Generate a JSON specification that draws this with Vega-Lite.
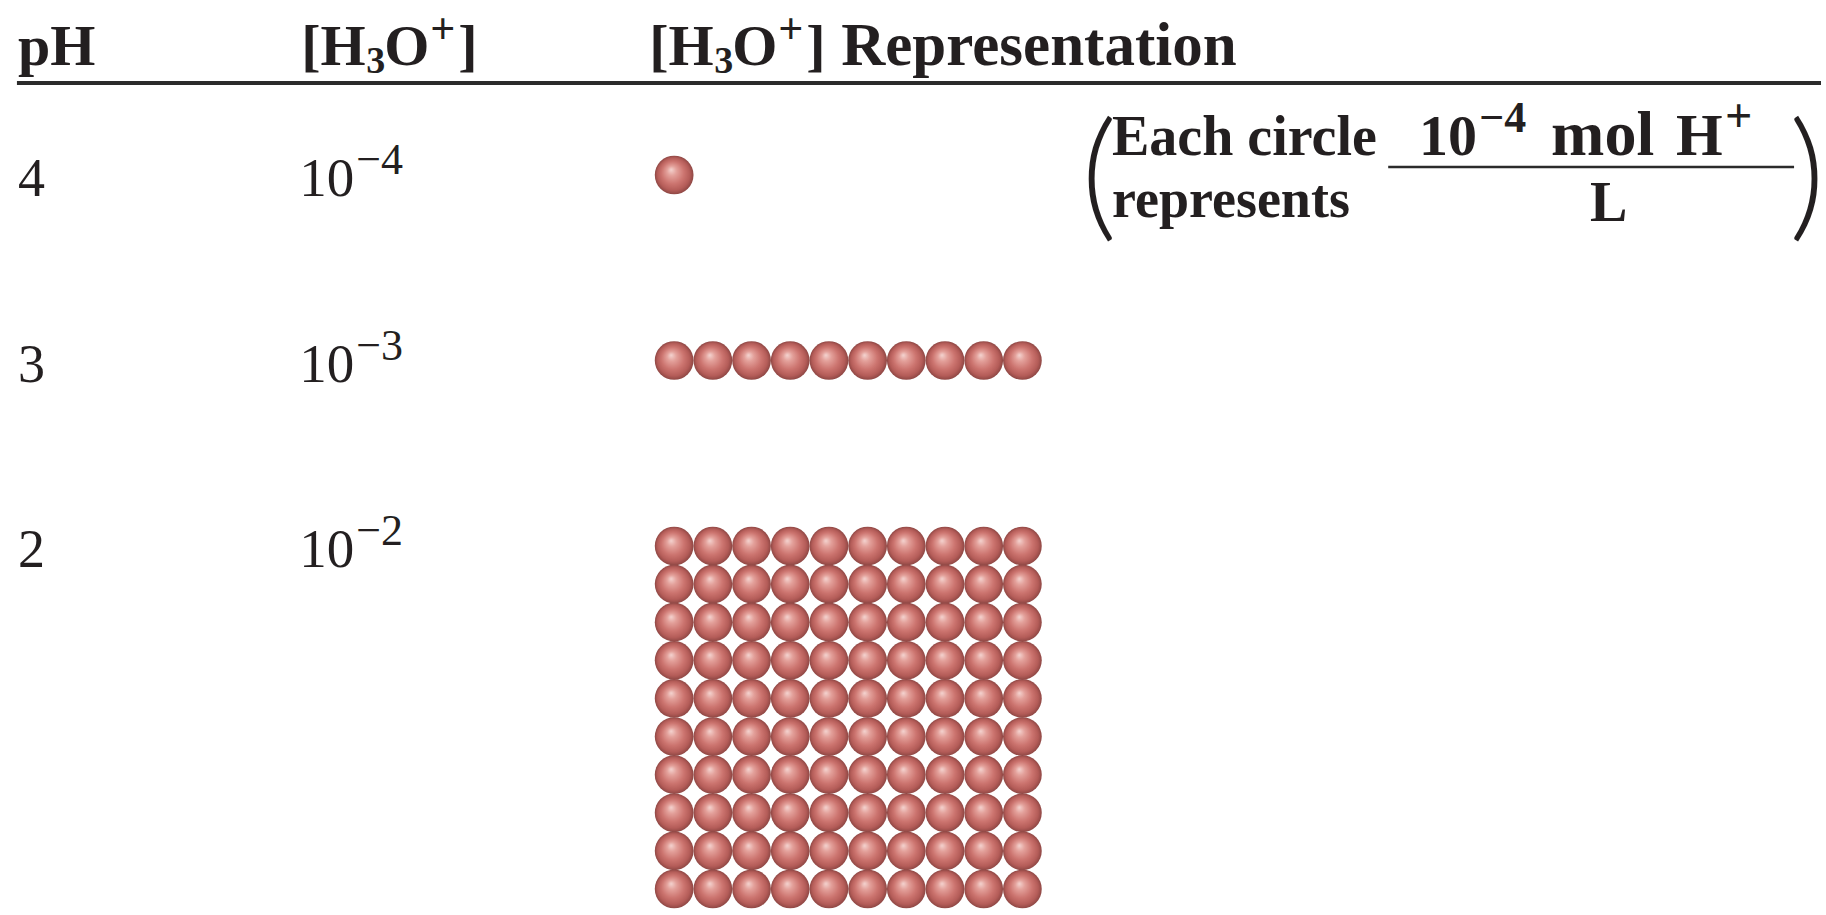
{
  "$schema": "https://vega.github.io/schema/vega-lite/v6.json",
  "width": 1826,
  "height": 915,
  "autosize": {"type": "fit", "contains": "padding"},
  "padding": 0,
  "background": "white",
  "config": {"view": {"stroke": null}, "text": {"font": "Liberation Serif", "color": "#231f20", "align": "left", "baseline": "alphabetic"}},
  "datasets": {
    "rows": [
      {"pH": 4, "base": "10", "exponent": "−4"},
      {"pH": 3, "base": "10", "exponent": "−3"},
      {"pH": 2, "base": "10", "exponent": "−2"}
    ],
    "circles": [
      {"pH":4,"col":0,"row":0},
      {"pH":3,"col":0,"row":0},{"pH":3,"col":1,"row":0},{"pH":3,"col":2,"row":0},{"pH":3,"col":3,"row":0},{"pH":3,"col":4,"row":0},{"pH":3,"col":5,"row":0},{"pH":3,"col":6,"row":0},{"pH":3,"col":7,"row":0},{"pH":3,"col":8,"row":0},{"pH":3,"col":9,"row":0},
      {"pH":2,"col":0,"row":0},{"pH":2,"col":1,"row":0},{"pH":2,"col":2,"row":0},{"pH":2,"col":3,"row":0},{"pH":2,"col":4,"row":0},{"pH":2,"col":5,"row":0},{"pH":2,"col":6,"row":0},{"pH":2,"col":7,"row":0},{"pH":2,"col":8,"row":0},{"pH":2,"col":9,"row":0},
      {"pH":2,"col":0,"row":1},{"pH":2,"col":1,"row":1},{"pH":2,"col":2,"row":1},{"pH":2,"col":3,"row":1},{"pH":2,"col":4,"row":1},{"pH":2,"col":5,"row":1},{"pH":2,"col":6,"row":1},{"pH":2,"col":7,"row":1},{"pH":2,"col":8,"row":1},{"pH":2,"col":9,"row":1},
      {"pH":2,"col":0,"row":2},{"pH":2,"col":1,"row":2},{"pH":2,"col":2,"row":2},{"pH":2,"col":3,"row":2},{"pH":2,"col":4,"row":2},{"pH":2,"col":5,"row":2},{"pH":2,"col":6,"row":2},{"pH":2,"col":7,"row":2},{"pH":2,"col":8,"row":2},{"pH":2,"col":9,"row":2},
      {"pH":2,"col":0,"row":3},{"pH":2,"col":1,"row":3},{"pH":2,"col":2,"row":3},{"pH":2,"col":3,"row":3},{"pH":2,"col":4,"row":3},{"pH":2,"col":5,"row":3},{"pH":2,"col":6,"row":3},{"pH":2,"col":7,"row":3},{"pH":2,"col":8,"row":3},{"pH":2,"col":9,"row":3},
      {"pH":2,"col":0,"row":4},{"pH":2,"col":1,"row":4},{"pH":2,"col":2,"row":4},{"pH":2,"col":3,"row":4},{"pH":2,"col":4,"row":4},{"pH":2,"col":5,"row":4},{"pH":2,"col":6,"row":4},{"pH":2,"col":7,"row":4},{"pH":2,"col":8,"row":4},{"pH":2,"col":9,"row":4},
      {"pH":2,"col":0,"row":5},{"pH":2,"col":1,"row":5},{"pH":2,"col":2,"row":5},{"pH":2,"col":3,"row":5},{"pH":2,"col":4,"row":5},{"pH":2,"col":5,"row":5},{"pH":2,"col":6,"row":5},{"pH":2,"col":7,"row":5},{"pH":2,"col":8,"row":5},{"pH":2,"col":9,"row":5},
      {"pH":2,"col":0,"row":6},{"pH":2,"col":1,"row":6},{"pH":2,"col":2,"row":6},{"pH":2,"col":3,"row":6},{"pH":2,"col":4,"row":6},{"pH":2,"col":5,"row":6},{"pH":2,"col":6,"row":6},{"pH":2,"col":7,"row":6},{"pH":2,"col":8,"row":6},{"pH":2,"col":9,"row":6},
      {"pH":2,"col":0,"row":7},{"pH":2,"col":1,"row":7},{"pH":2,"col":2,"row":7},{"pH":2,"col":3,"row":7},{"pH":2,"col":4,"row":7},{"pH":2,"col":5,"row":7},{"pH":2,"col":6,"row":7},{"pH":2,"col":7,"row":7},{"pH":2,"col":8,"row":7},{"pH":2,"col":9,"row":7},
      {"pH":2,"col":0,"row":8},{"pH":2,"col":1,"row":8},{"pH":2,"col":2,"row":8},{"pH":2,"col":3,"row":8},{"pH":2,"col":4,"row":8},{"pH":2,"col":5,"row":8},{"pH":2,"col":6,"row":8},{"pH":2,"col":7,"row":8},{"pH":2,"col":8,"row":8},{"pH":2,"col":9,"row":8},
      {"pH":2,"col":0,"row":9},{"pH":2,"col":1,"row":9},{"pH":2,"col":2,"row":9},{"pH":2,"col":3,"row":9},{"pH":2,"col":4,"row":9},{"pH":2,"col":5,"row":9},{"pH":2,"col":6,"row":9},{"pH":2,"col":7,"row":9},{"pH":2,"col":8,"row":9},{"pH":2,"col":9,"row":9}
    ]
  },
  "layer": [
    {
      "data": {"name": "circles"},
      "mark": {
        "type": "circle",
        "size": 1500,
        "opacity": 1,
        "strokeWidth": 0,
        "fill": {
          "gradient": "radial",
          "x1": 0.42, "y1": 0.36, "r1": 0,
          "x2": 0.5, "y2": 0.5, "r2": 0.5,
          "stops": [
            {"offset": 0, "color": "#f4d4d0"},
            {"offset": 0.25, "color": "#e3a09a"},
            {"offset": 0.58, "color": "#cc746f"},
            {"offset": 0.84, "color": "#b45c58"},
            {"offset": 1, "color": "#8e4744"}
          ]
        }
      },
      "encoding": {
        "x": {"field": "col", "type": "quantitative", "axis": null, "scale": {"domain": [-17.4227, 29.6392], "zero": false, "nice": false}},
        "y": {"field": "pH", "type": "ordinal", "axis": null, "scale": {"type": "point", "domain": [4, 3, 2], "range": [175, 546], "padding": 0, "round": false}},
        "yOffset": {"field": "row", "type": "quantitative", "scale": {"domain": [0, 9], "range": [0, 343]}}
      }
    },
    {
      "data": {"name": "rows"},
      "mark": {"type": "text", "dy": 21, "fontSize": 54},
      "encoding": {
        "x": {"datum": -16.959, "type": "quantitative"},
        "y": {"field": "pH", "type": "ordinal"},
        "text": {"field": "pH", "type": "quantitative"}
      }
    },
    {
      "data": {"name": "rows"},
      "mark": {"type": "text", "dy": 21, "fontSize": 55},
      "encoding": {
        "x": {"datum": -9.691, "type": "quantitative"},
        "y": {"field": "pH", "type": "ordinal"},
        "text": {"field": "base", "type": "nominal"}
      }
    },
    {
      "data": {"name": "rows"},
      "mark": {"type": "text", "dx": 57, "dy": -1, "fontSize": 44},
      "encoding": {
        "x": {"datum": -9.691, "type": "quantitative"},
        "y": {"field": "pH", "type": "ordinal"},
        "text": {"field": "exponent", "type": "nominal"}
      }
    },
    {
      "data": {"values": [{}]},
      "mark": {"type": "text", "text": "pH", "dy": -110, "fontSize": 58, "fontWeight": "bold"},
      "encoding": {"x": {"datum": -16.959, "type": "quantitative"}, "y": {"datum": 4, "type": "ordinal"}}
    },
    {
      "data": {"values": [{}]},
      "mark": {"type": "text", "text": "[H", "dy": -110, "fontSize": 58, "fontWeight": "bold"},
      "encoding": {"x": {"datum": -9.639, "type": "quantitative"}, "y": {"datum": 4, "type": "ordinal"}}
    },
    {
      "data": {"values": [{}]},
      "mark": {"type": "text", "text": "3", "dx": 65, "dy": -102, "fontSize": 38, "fontWeight": "bold"},
      "encoding": {"x": {"datum": -9.639, "type": "quantitative"}, "y": {"datum": 4, "type": "ordinal"}}
    },
    {
      "data": {"values": [{}]},
      "mark": {"type": "text", "text": "O", "dx": 83, "dy": -110, "fontSize": 58, "fontWeight": "bold"},
      "encoding": {"x": {"datum": -9.639, "type": "quantitative"}, "y": {"datum": 4, "type": "ordinal"}}
    },
    {
      "data": {"values": [{}]},
      "mark": {"type": "text", "text": "+", "dx": 129, "dy": -132, "fontSize": 44, "fontWeight": "bold"},
      "encoding": {"x": {"datum": -9.639, "type": "quantitative"}, "y": {"datum": 4, "type": "ordinal"}}
    },
    {
      "data": {"values": [{}]},
      "mark": {"type": "text", "text": "]", "dx": 157, "dy": -110, "fontSize": 58, "fontWeight": "bold"},
      "encoding": {"x": {"datum": -9.639, "type": "quantitative"}, "y": {"datum": 4, "type": "ordinal"}}
    },
    {
      "data": {"values": [{}]},
      "mark": {"type": "text", "text": "[H", "dy": -110, "fontSize": 58, "fontWeight": "bold"},
      "encoding": {"x": {"datum": -0.644, "type": "quantitative"}, "y": {"datum": 4, "type": "ordinal"}}
    },
    {
      "data": {"values": [{}]},
      "mark": {"type": "text", "text": "3", "dx": 65, "dy": -102, "fontSize": 38, "fontWeight": "bold"},
      "encoding": {"x": {"datum": -0.644, "type": "quantitative"}, "y": {"datum": 4, "type": "ordinal"}}
    },
    {
      "data": {"values": [{}]},
      "mark": {"type": "text", "text": "O", "dx": 83, "dy": -110, "fontSize": 58, "fontWeight": "bold"},
      "encoding": {"x": {"datum": -0.644, "type": "quantitative"}, "y": {"datum": 4, "type": "ordinal"}}
    },
    {
      "data": {"values": [{}]},
      "mark": {"type": "text", "text": "+", "dx": 129, "dy": -132, "fontSize": 44, "fontWeight": "bold"},
      "encoding": {"x": {"datum": -0.644, "type": "quantitative"}, "y": {"datum": 4, "type": "ordinal"}}
    },
    {
      "data": {"values": [{}]},
      "mark": {"type": "text", "text": "]", "dx": 157, "dy": -110, "fontSize": 58, "fontWeight": "bold"},
      "encoding": {"x": {"datum": -0.644, "type": "quantitative"}, "y": {"datum": 4, "type": "ordinal"}}
    },
    {
      "data": {"values": [{}]},
      "mark": {"type": "text", "text": "Representation", "dx": 192, "dy": -110, "fontSize": 61, "fontWeight": "bold"},
      "encoding": {"x": {"datum": -0.644, "type": "quantitative"}, "y": {"datum": 4, "type": "ordinal"}}
    },
    {
      "data": {"values": [{}]},
      "mark": {"type": "rule", "strokeWidth": 4, "color": "#2b2b2b", "yOffset": -92},
      "encoding": {"x": {"datum": -16.985, "type": "quantitative"}, "x2": {"datum": 29.6392}, "y": {"datum": 4, "type": "ordinal"}}
    },
    {
      "data": {"values": [{}]},
      "mark": {"type": "text", "text": "(", "font": "Lato", "fontWeight": 300, "align": "center", "baseline": "middle", "dy": 6, "fontSize": 140},
      "encoding": {"x": {"datum": 10.979, "type": "quantitative"}, "y": {"datum": 4, "type": "ordinal"}}
    },
    {
      "data": {"values": [{}]},
      "mark": {"type": "text", "text": ")", "font": "Lato", "fontWeight": 300, "align": "center", "baseline": "middle", "dy": 6, "fontSize": 140},
      "encoding": {"x": {"datum": 29.278, "type": "quantitative"}, "y": {"datum": 4, "type": "ordinal"}}
    },
    {
      "data": {"values": [{}]},
      "mark": {"type": "text", "text": "Each circle", "dy": -20, "fontSize": 56, "fontWeight": "bold"},
      "encoding": {"x": {"datum": 11.314, "type": "quantitative"}, "y": {"datum": 4, "type": "ordinal"}}
    },
    {
      "data": {"values": [{}]},
      "mark": {"type": "text", "text": "represents", "dy": 42, "fontSize": 54, "fontWeight": "bold"},
      "encoding": {"x": {"datum": 11.314, "type": "quantitative"}, "y": {"datum": 4, "type": "ordinal"}}
    },
    {
      "data": {"values": [{}]},
      "mark": {"type": "text", "text": "10", "dy": -20, "fontSize": 58, "fontWeight": "bold"},
      "encoding": {"x": {"datum": 19.253, "type": "quantitative"}, "y": {"datum": 4, "type": "ordinal"}}
    },
    {
      "data": {"values": [{}]},
      "mark": {"type": "text", "text": "−4", "dx": 60, "dy": -43, "fontSize": 44, "fontWeight": "bold"},
      "encoding": {"x": {"datum": 19.253, "type": "quantitative"}, "y": {"datum": 4, "type": "ordinal"}}
    },
    {
      "data": {"values": [{}]},
      "mark": {"type": "text", "text": "mol", "dx": 132, "dy": -20, "fontSize": 64, "fontWeight": "bold"},
      "encoding": {"x": {"datum": 19.253, "type": "quantitative"}, "y": {"datum": 4, "type": "ordinal"}}
    },
    {
      "data": {"values": [{}]},
      "mark": {"type": "text", "text": "H", "dx": 257, "dy": -20, "fontSize": 60, "fontWeight": "bold"},
      "encoding": {"x": {"datum": 19.253, "type": "quantitative"}, "y": {"datum": 4, "type": "ordinal"}}
    },
    {
      "data": {"values": [{}]},
      "mark": {"type": "text", "text": "+", "dx": 306, "dy": -43, "fontSize": 48, "fontWeight": "bold"},
      "encoding": {"x": {"datum": 19.253, "type": "quantitative"}, "y": {"datum": 4, "type": "ordinal"}}
    },
    {
      "data": {"values": [{}]},
      "mark": {"type": "rule", "strokeWidth": 2.5, "color": "#2b2b2b", "yOffset": -8},
      "encoding": {"x": {"datum": 18.454, "type": "quantitative"}, "x2": {"datum": 28.943}, "y": {"datum": 4, "type": "ordinal"}}
    },
    {
      "data": {"values": [{}]},
      "mark": {"type": "text", "text": "L", "align": "center", "dy": 46, "fontSize": 56, "fontWeight": "bold"},
      "encoding": {"x": {"datum": 24.149, "type": "quantitative"}, "y": {"datum": 4, "type": "ordinal"}}
    }
  ]
}
